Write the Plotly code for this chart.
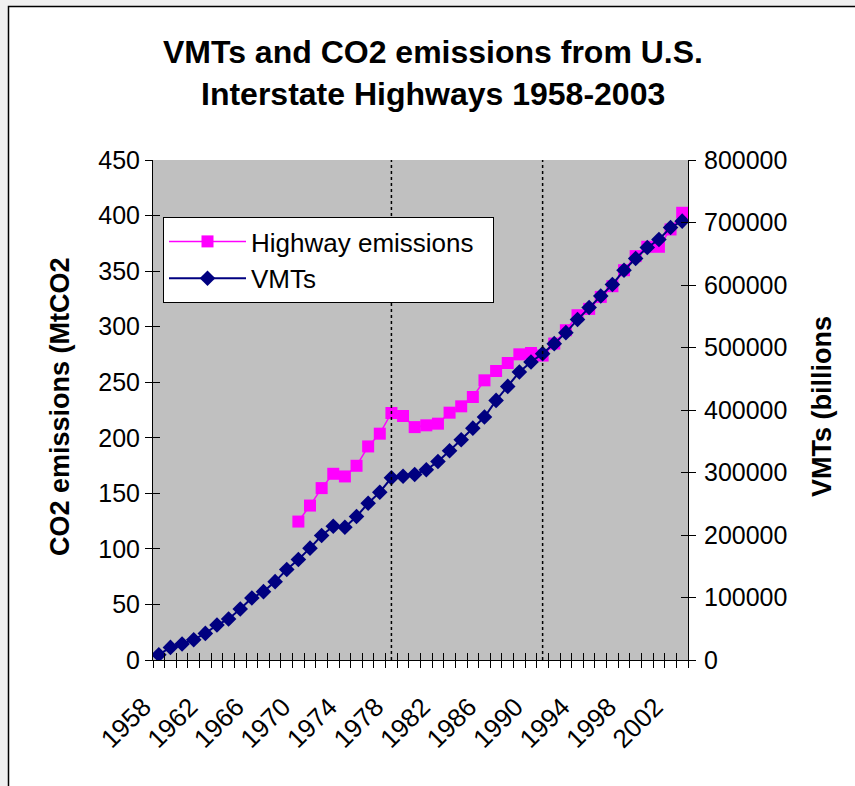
import plotly.graph_objects as go

# ---------------- data ----------------
years = list(range(1958, 2004))
vmt = [8500, 20200, 25600, 32500, 42600, 56000, 65700, 81700, 99300, 109400,
       125400, 144700, 160700, 179000, 199100, 214000, 212400, 229600, 250900, 268500,
       291600, 294100, 296800, 304400, 317700, 334800, 352400, 371000, 388700, 415400,
       437800, 460700, 476800, 490200, 506200, 523800, 544700, 564000, 582500, 600800,
       623700, 642400, 660000, 672800, 692100, 702200]
emission_years = list(range(1970, 2004))
emissions = [124.6, 139.0, 154.7, 167.6, 165.2, 174.8, 192.2, 203.7, 222.3, 219.6,
             209.6, 211.2, 212.7, 222.6, 228.3, 236.7, 251.7, 260.1, 267.3, 275.1,
             276.3, 274.0, 284.8, 296.8, 310.3, 316.0, 326.8, 336.4, 350.8, 363.5,
             371.9, 371.9, 387.5, 402.5]
label_years = years[::4]
marker_years = [1978, 1991]

title_lines = ["VMTs and CO2 emissions from U.S.", "Interstate Highways 1958-2003"]
left_title = "CO2 emissions (MtCO2"
right_title = "VMTs (billions"
series_names = ["Highway emissions", "VMTs"]

# ---------------- geometry ----------------
W, H = 855, 786
L, R, T, B = 153, 167, 160, 126
PW, PH = W - L - R, H - T - B


def px(xp):
    return (xp - L) / PW


def py(yp):
    return (H - B - yp) / PH


FONT = "Liberation Sans, Arial, sans-serif"
PINK = "#FF00FF"
NAVY = "#000080"
NB = "\u00a0"

fig = go.Figure()

fig.add_trace(go.Scatter(
    x=emission_years, y=emissions, name=series_names[0] + NB * 2, mode="lines+markers",
    line=dict(color=PINK, width=1.5),
    marker=dict(symbol="square", size=12, color=PINK),
    legendgroup="a", xaxis="x", yaxis="y"))
fig.add_trace(go.Scatter(
    x=years, y=vmt, name=series_names[1], mode="lines+markers",
    line=dict(color=NAVY, width=2),
    marker=dict(symbol="diamond", size=12, color=NAVY),
    legendgroup="b", xaxis="x", yaxis="y2"))

# empty helper traces so overlay axes (cross tick marks) are drawn
for xa, ya in [("x2", "y"), ("x3", "y"), ("x", "y3"), ("x", "y4")]:
    fig.add_trace(go.Scatter(x=[None], y=[None], xaxis=xa, yaxis=ya,
                             showlegend=False, hoverinfo="skip"))

xr = [years[0] - 0.5, years[-1] + 0.5]
bounds = [y - 0.5 for y in years] + [years[-1] + 0.5]
yl = [0, 450]
yr = [0, 800000]

common = dict(showgrid=False, zeroline=False, fixedrange=True)

fig.update_layout(
    width=W, height=H, autosize=False,
    margin=dict(l=L, r=R, t=T, b=B, pad=0),
    paper_bgcolor="#F0F0F0", plot_bgcolor="#C0C0C0",
    font=dict(family=FONT, size=25, color="black"),
    showlegend=True,
    legend=dict(x=px(163), y=py(217), xanchor="left", yanchor="top",
                bgcolor="white", bordercolor="black", borderwidth=1,
                font=dict(size=26, family=FONT), traceorder="grouped",
                tracegroupgap=0, itemwidth=77),
    xaxis=dict(range=xr, tickvals=label_years,
               ticktext=[str(y) + NB * 3 for y in label_years],
               tickangle=-45, ticks="", showline=True, linecolor="black", linewidth=1,
               tickfont=dict(size=26), ticklabelstandoff=5, **common),
    xaxis2=dict(range=xr, overlaying="x", anchor="y", tickvals=bounds, ticks="outside",
                ticklen=7, tickcolor="black", showticklabels=False, showline=False, **common),
    xaxis3=dict(range=xr, overlaying="x", anchor="y", tickvals=bounds, ticks="inside",
                ticklen=7, tickcolor="black", showticklabels=False, showline=False, **common),
    yaxis=dict(range=yl, dtick=50, tick0=0, ticks="outside", ticklen=7, tickcolor="black",
               showline=True, linecolor="black", linewidth=1, tickfont=dict(size=25),
               ticklabelstandoff=0, **common),
    yaxis2=dict(range=yr, dtick=100000, tick0=0, tickformat="d", overlaying="y", side="right",
                anchor="x", ticks="outside", ticklen=7, tickcolor="black", showline=True,
                linecolor="black", linewidth=1, tickfont=dict(size=25), ticklabelstandoff=3,
                **common),
    yaxis3=dict(range=yl, dtick=50, tick0=0, overlaying="y", side="left", anchor="x",
                ticks="inside", ticklen=7, tickcolor="black", showticklabels=False,
                showline=False, **common),
    yaxis4=dict(range=yr, dtick=100000, tick0=0, overlaying="y", side="right", anchor="x",
                ticks="inside", ticklen=7, tickcolor="black", showticklabels=False,
                showline=False, **common),
)

shapes = [
    # white chart frame
    dict(type="rect", xref="paper", yref="paper",
         x0=px(8.5), x1=px(900), y0=py(830), y1=py(6.5),
         line=dict(color="black", width=1.5), fillcolor="white", layer="below"),
    # grey plot area
    dict(type="rect", xref="paper", yref="paper", x0=0, x1=1, y0=0, y1=1,
         line=dict(width=0), fillcolor="#C0C0C0", layer="below"),
]
for yv in marker_years:
    shapes.append(dict(type="line", xref="x", yref="paper", x0=yv, x1=yv, y0=0, y1=1,
                       line=dict(color="black", width=1.5, dash="dot"), layer="above"))
fig.update_layout(shapes=shapes)

annotations = [
    dict(text="<b>%s</b>" % title_lines[0], x=px(433), y=py(52), xref="paper", yref="paper",
         xanchor="center", yanchor="middle", showarrow=False, font=dict(size=32, family=FONT)),
    dict(text="<b>%s</b>" % title_lines[1], x=px(433), y=py(94), xref="paper", yref="paper",
         xanchor="center", yanchor="middle", showarrow=False, font=dict(size=32, family=FONT)),
    dict(text="<b>%s</b>" % left_title, x=px(60), y=py(407), xref="paper", yref="paper",
         xanchor="center", yanchor="middle", textangle=-90, showarrow=False,
         font=dict(size=27, family=FONT)),
    dict(text="<b>%s</b>" % right_title, x=px(822), y=py(407), xref="paper", yref="paper",
         xanchor="center", yanchor="middle", textangle=-90, showarrow=False,
         font=dict(size=27, family=FONT)),
]
fig.update_layout(annotations=annotations)

fig.write_html("out.html",
               config={"displayModeBar": False, "staticPlot": True},
               post_script="document.body.style.margin='0px';"
                           "document.body.style.padding='0px';"
                           "document.body.style.overflow='hidden';")
